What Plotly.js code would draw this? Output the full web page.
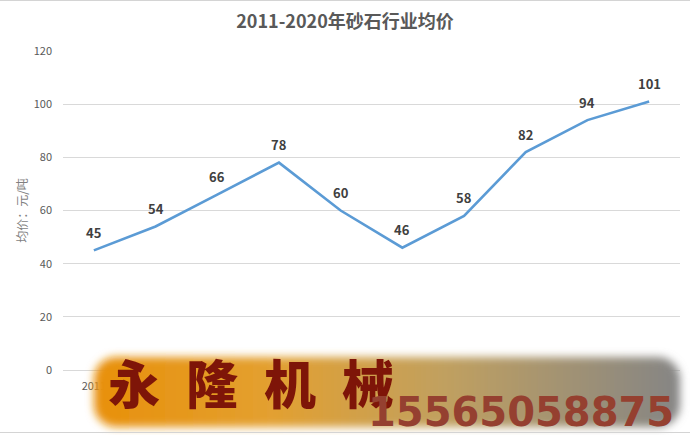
<!DOCTYPE html>
<html><head><meta charset="utf-8">
<script src="https://cdn.plot.ly/plotly-3.0.1.min.js"></script>
<style>html,body{margin:0;padding:0;background:#fff}#c{width:690px;height:435px;position:relative}
#bt{position:absolute;left:0;top:0;width:690px;height:1px;background:#d4d4d4;z-index:5}
#bb{position:absolute;left:0;top:432px;width:690px;height:1px;background:#d4d4d4;z-index:5}</style>
</head><body><div id="c"><div id="bt"></div><div id="bb"></div></div>
<script>
var years = ['2011','2012','2013','2014','2015','2016','2017','2018','2019','2020'];
var prices = [45, 54, 66, 78, 60, 46, 58, 82, 94, 101];
var titleText = '2011-2020年砂石行业均价';
var yTitle = '均价：元/吨';
var brandText = '永\u2002隆\u2002机\u2002械';
var phone = '15565058875';

var idx = years.map(function(_, i){ return i; });

var svg = '<svg xmlns="http://www.w3.org/2000/svg" width="606" height="90" viewBox="0 0 606 90">' +
 '<defs><linearGradient id="g" x1="0" x2="1" y1="0" y2="0">' +
 '<stop offset="0" stop-color="#E8900A"/><stop offset="0.3" stop-color="#E3A030"/>' +
 '<stop offset="0.6" stop-color="#C0A060"/><stop offset="1" stop-color="#858585"/></linearGradient>' +
 '<filter id="f" x="-5%" y="-20%" width="110%" height="140%"><feGaussianBlur stdDeviation="4"/></filter></defs>' +
 '<rect x="10" y="10" width="586" height="70" rx="22" ry="22" fill="url(#g)" filter="url(#f)"/></svg>';
var imgSrc = 'data:image/svg+xml;charset=utf-8,' + encodeURIComponent(svg);

var L = 63, R = 10, T = 51, B = 65, W = 690, H = 435;
var pw = W - L - R, ph = H - T - B;
function px(x){return (x - L)/pw;}
function py(y){return (H - B - y)/ph;}

var annotations = prices.map(function(v,i){
  return {x: idx[i], y: v, xref:'x', yref:'y', text: String(v), showarrow:false,
    yshift: 18, font:{family:'Noto Sans CJK SC, sans-serif', size:13, color:'#404040', weight:700}};
});
annotations.push({x: px(106), y: py(381), xref:'paper', yref:'paper', text: brandText, showarrow:false,
  xanchor:'left', yanchor:'middle',
  font:{family:'Noto Sans CJK SC, sans-serif', size:52, color:'#7E1508', weight:900}});
annotations.push({x: px(676), y: py(412), xref:'paper', yref:'paper', text: phone, showarrow:false,
  xanchor:'right', yanchor:'middle',
  font:{family:'DejaVu Sans, sans-serif', size:40, color:'#954030', weight:700}});

var trace = {x: idx, y: prices, type:'scatter', mode:'lines',
  line:{color:'#5B9BD5', width:2.6}, hoverinfo:'none'};

var layout = {
  width: W, height: H,
  margin:{l:L, r:R, t:T, b:B, pad:0},
  paper_bgcolor:'#fff', plot_bgcolor:'#fff',
  showlegend:false,
  title:{text: titleText, x:0.5, xanchor:'center', y: 1 - 22/H, yanchor:'middle',
    font:{family:'Noto Sans CJK SC, sans-serif', size:18, color:'#595959', weight:700}},
  xaxis:{type:'linear', range:[-0.5, 9.5], tickvals: idx, ticktext: years,
    showgrid:false, zeroline:false, showline:false, ticks:'', ticklabelstandoff:8,
    tickfont:{family:'Noto Sans CJK SC, sans-serif', size:11, color:'#595959'}},
  yaxis:{range:[0,120], dtick:20, tick0:0, showgrid:true, gridcolor:'#d9d9d9', gridwidth:1,
    zeroline:true, zerolinecolor:'#d9d9d9', zerolinewidth:1, showline:false, ticks:'',
    ticklabelstandoff:10,
    tickfont:{family:'Noto Sans CJK SC, sans-serif', size:11, color:'#595959'},
    title:{text: yTitle, standoff: 3, font:{family:'Noto Sans CJK SC, sans-serif', size:12, color:'#7f7f7f'}}},
  images:[{source: imgSrc, xref:'paper', yref:'paper', x: px(84), y: py(347), sizex: 606/pw, sizey: 90/ph,
    xanchor:'left', yanchor:'top', sizing:'stretch', layer:'above'}],
  annotations: annotations
};
Plotly.newPlot('c', [trace], layout, {displayModeBar:false, staticPlot:true});
</script></body></html>
